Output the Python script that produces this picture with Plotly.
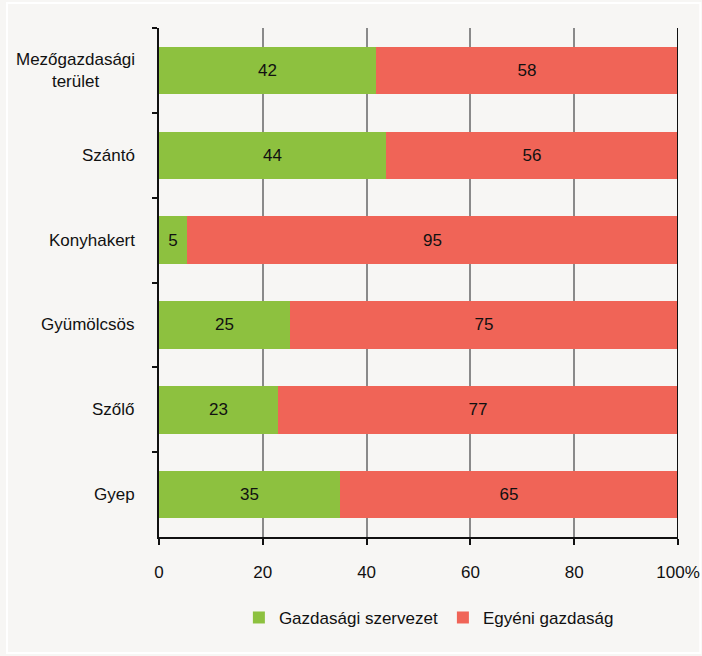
import plotly.graph_objects as go

categories = ["Mezőgazdasági<br>terület", "Szántó", "Konyhakert", "Gyümölcsös", "Szőlő", "Gyep"]
gazdasagi = [41.8, 43.7, 5.4, 25.2, 22.9, 34.9]
egyeni = [58.2, 56.3, 94.6, 74.8, 77.1, 65.1]
series_names = ["Gazdasági szervezet", "Egyéni gazdaság"]
x_ticks = [0, 20, 40, 60, 80, 100]
x_ticklabels = ["0", "20", "40", "60", "80", "100%"]

GREEN = "#8dc13f"
RED = "#f06457"
BG = "#f7f6f4"
FONT = "Liberation Sans"

fig = go.Figure()
fig.add_trace(go.Bar(
    y=categories, x=gazdasagi, name=series_names[0], orientation="h",
    marker=dict(color=GREEN, line=dict(width=0)),
    texttemplate="%{x:.0f}", textposition="inside", insidetextanchor="middle",
    textfont=dict(color="#111111", size=17, family=FONT),
))
fig.add_trace(go.Bar(
    y=categories, x=egyeni, name=series_names[1], orientation="h",
    marker=dict(color=RED, line=dict(width=0)),
    texttemplate="%{x:.0f}", textposition="inside", insidetextanchor="middle",
    textfont=dict(color="#111111", size=17, family=FONT),
))

# category labels (centred lines, right edge near the axis)
annotations = [
    dict(text=c, xref="paper", yref="y", x=-0.0424, y=c, xanchor="right", yanchor="middle",
         align="center", showarrow=False, font=dict(size=17, family=FONT, color="#111111"))
    for c in categories
]

fig.update_layout(
    width=702, height=656,
    barmode="stack", bargap=0.44,
    paper_bgcolor=BG, plot_bgcolor=BG,
    margin=dict(l=159, r=24, t=28, b=119, autoexpand=False),
    font=dict(family=FONT, size=17, color="#111111"),
    showlegend=True,
    legend=dict(orientation="h", x=0.52, xanchor="center", y=-0.159, yanchor="middle",
                font=dict(size=17, family=FONT), traceorder="normal",
                itemwidth=30, bgcolor="rgba(0,0,0,0)"),
    uniformtext=dict(mode="show", minsize=10),
    annotations=annotations,
    shapes=[
        dict(type="line", xref="x", yref="paper", x0=100, x1=100, y0=0, y1=1,
             line=dict(color="#111111", width=2), layer="above"),
        dict(type="rect", xref="paper", yref="paper", x0=-0.293, x1=1.043, y0=-0.228, y1=1.049,
             line=dict(color="#ffffff", width=2), fillcolor="rgba(0,0,0,0)", layer="below"),
    ],
)
fig.update_xaxes(
    range=[0, 100], tickvals=x_ticks, ticktext=x_ticklabels,
    showgrid=True, gridcolor="#8a8a8a", gridwidth=1.5,
    showline=True, linecolor="#111111", linewidth=2,
    ticks="outside", ticklen=6, tickwidth=2, tickcolor="#111111",
    tickfont=dict(size=17, family=FONT), zeroline=False, automargin=False,
    ticklabelstandoff=13,
)
fig.update_yaxes(
    autorange="reversed", type="category",
    showline=True, linecolor="#111111", linewidth=2,
    ticks="outside", ticklen=5, tickwidth=2, tickcolor="#111111",
    tickson="boundaries", showgrid=False, automargin=False,
    showticklabels=False,
)

fig.write_html("out.html", config={"displayModeBar": False},
               post_script="document.body.style.margin='0';document.body.style.overflow='hidden';")
